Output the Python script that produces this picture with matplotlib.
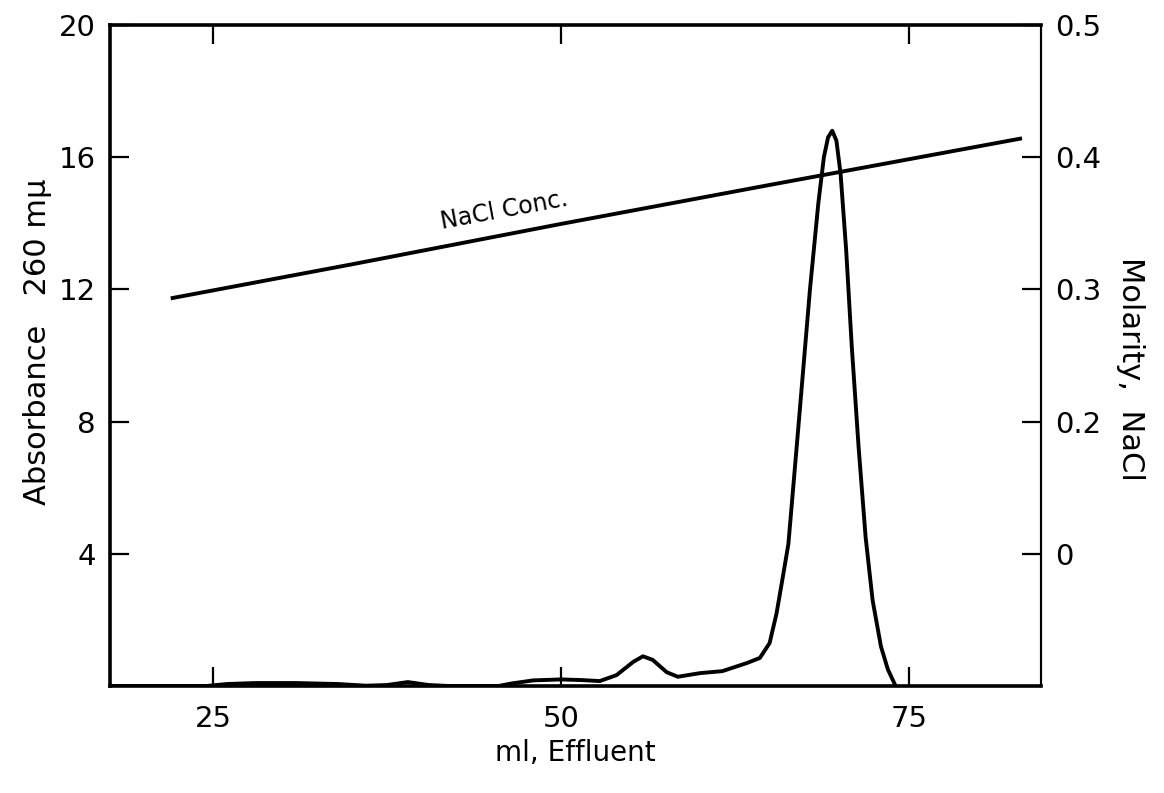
import matplotlib.pyplot as plt

# absorbancia a 260 m-mu ao longo do efluente (ml)
ml = [17.6, 24.5, 26.0, 28.0, 31.0, 34.0, 36.0, 37.5, 39.0, 40.5, 42.0, 45.5,
      46.5, 48.0, 50.0, 51.5, 52.8, 54.0, 55.2, 55.9, 56.6, 57.6, 58.4, 60.0,
      61.6, 63.4, 64.3, 65.0, 65.5, 65.95, 66.35, 67.1, 67.9, 68.5, 68.9,
      69.2, 69.5, 69.8, 70.1, 70.5, 70.9, 71.4, 71.9, 72.4, 73.0, 73.5, 74.0]
absorbancia = [0, 0, 0.06, 0.09, 0.09, 0.06, 0.01, 0.03, 0.12, 0.03, 0, 0,
               0.08, 0.17, 0.2, 0.18, 0.15, 0.33, 0.73, 0.9, 0.79, 0.42, 0.28, 0.39,
               0.45, 0.7, 0.85, 1.3, 2.2, 3.3, 4.3, 8.0, 12.0, 14.6, 16.0,
               16.6, 16.8, 16.5, 15.5, 13.2, 10.3, 7.2, 4.5, 2.6, 1.2, 0.5, 0.05]

# gradiente de NaCl (molaridade)
ml_nacl = [22.1, 35.0, 50.0, 65.0, 83.0]
molaridade = [0.2935, 0.319, 0.3495, 0.379, 0.414]

x_ticks = [25, 50, 75]
y_ticks = [4, 8, 12, 16, 20]
y_ticks_dir = [0.1, 0.2, 0.3, 0.4, 0.5]
y_labels_dir = ['0', '0.2', '0.3', '0.4', '0.5']

plt.rcParams['font.family'] = ['DejaVu Sans']

fig = plt.figure(figsize=(11.64, 7.93), dpi=100)
ax = fig.add_axes([0.0945, 0.1349, 0.7998, 0.8336])

ax.plot(ml, absorbancia, color='black', lw=2.8, solid_joinstyle='round')
ax.set_xlim(17.6, 84.5)
ax.set_ylim(0, 20)
ax.set_xticks(x_ticks)
ax.set_yticks(y_ticks)
ax.tick_params(direction='in', length=14, width=1.6, labelsize=21,
               top=True, pad=10)
ax.tick_params(axis='x', pad=14)
ax.set_xlabel('ml, Effluent', fontsize=20)
ax.xaxis.set_label_coords(0.5, -0.08)
ax.set_ylabel('Absorbance   260 m\u03bc', fontsize=22)
ax.yaxis.set_label_coords(-0.062, 0.52)
for s in ['left', 'bottom', 'top']:
    ax.spines[s].set_linewidth(2.6)
ax.spines['right'].set_linewidth(1.5)

ax2 = ax.twinx()
ax2.plot(ml_nacl, molaridade, color='black', lw=2.8)
ax2.set_ylim(0, 0.5)
ax2.set_yticks(y_ticks_dir)
ax2.set_yticklabels(y_labels_dir)
ax2.tick_params(direction='in', length=14, width=1.6, labelsize=21, pad=10)
ax2.set_ylabel('Molarity,  NaCl', fontsize=22, rotation=-90)
ax2.yaxis.set_label_coords(1.112, 0.48)
ax2.spines['right'].set_linewidth(1.5)

ax.text(45.9, 14.4, 'NaCl Conc.', fontsize=17, rotation=10.5,
        ha='center', va='center')

fig.savefig('out.png', dpi=100)
